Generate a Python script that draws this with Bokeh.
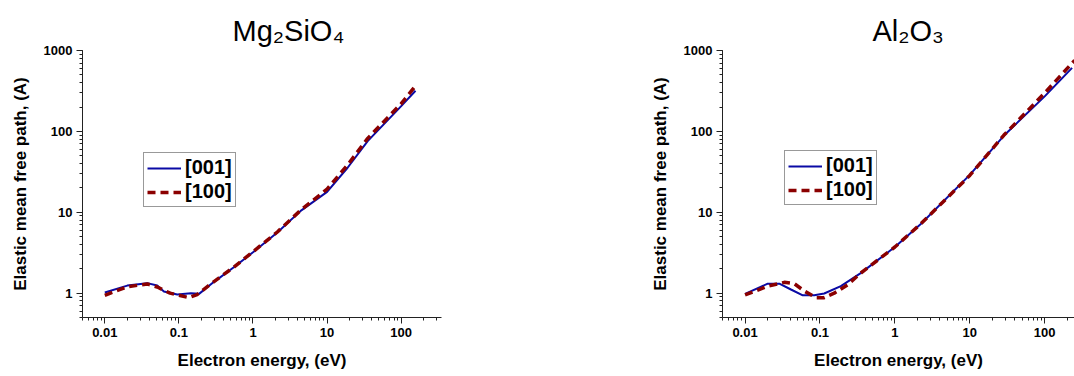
from bokeh.plotting import figure
from bokeh.layouts import row
from bokeh.models import Range1d, Legend, LegendItem, LogTicker, CustomJSTickFormatter
from bokeh.embed import file_html
from bokeh.resources import INLINE

# ---- data ----
mg_e_001 = [0.01, 0.0201, 0.0374, 0.051, 0.0627, 0.095, 0.145, 0.187, 0.295, 0.551, 1.0, 2.13, 4.4, 10.0, 18.9, 35.3, 100.0, 156.0]
mg_l_001 = [1.02, 1.24, 1.33, 1.24, 1.05, 0.96, 1.0, 0.98, 1.37, 2.09, 3.2, 5.63, 10.4, 17.9, 35.5, 75.9, 205.0, 318.0]
mg_e_100 = [0.01, 0.0201, 0.0374, 0.051, 0.076, 0.1, 0.137, 0.176, 0.27, 0.551, 1.0, 2.13, 4.4, 10.0, 18.9, 35.3, 100.0, 158.0]
mg_l_100 = [0.94, 1.2, 1.3, 1.19, 1.0, 0.94, 0.88, 0.96, 1.3, 2.1, 3.25, 5.7, 10.6, 19.3, 38.5, 82.0, 220.0, 370.0]

al_e_001 = [0.01, 0.0201, 0.0287, 0.041, 0.059, 0.084, 0.114, 0.19, 0.35, 1.0, 2.22, 10.0, 28.6, 100.0, 232.0]
al_l_001 = [0.98, 1.31, 1.31, 1.11, 0.94, 0.94, 0.99, 1.22, 1.77, 3.72, 7.15, 29.0, 88.8, 271.0, 610.0]
al_e_100 = [0.01, 0.0201, 0.0334, 0.0454, 0.062, 0.088, 0.114, 0.155, 0.234, 0.35, 1.0, 2.22, 10.0, 28.6, 100.0, 251.0]
al_l_100 = [0.95, 1.22, 1.36, 1.31, 1.06, 0.88, 0.88, 1.0, 1.27, 1.77, 3.72, 7.2, 28.5, 90.0, 298.0, 755.0]

series_labels = ["[001]", "[100]"]
titles = ["Mg\u2082SiO\u2084", "Al\u2082O\u2083"]
x_label = "Electron energy, (eV)"
y_label = "Elastic mean free path, (A)"

BLUE = "#0A0AA5"
RED = "#8B0000"
FONT = "Liberation Sans"

FMT_CODE = """
var v = Math.round(Math.log10(tick));
return v < 0 ? tick.toFixed(-v) : Math.round(tick).toString();
"""


def make(title, e1, l1, e2, l2, width, x_end, borders, legend_loc):
    bl, br, bt, bb = borders
    p = figure(width=width, height=376, x_axis_type="log", y_axis_type="log",
               x_range=Range1d(0.005, x_end), y_range=Range1d(0.5, 1000),
               output_backend="svg", toolbar_location=None, title=title,
               min_border_left=bl, min_border_right=br,
               min_border_top=bt, min_border_bottom=bb)
    p.outline_line_color = None
    p.xgrid.visible = False
    p.ygrid.visible = False
    p.background_fill_color = "white"
    p.border_fill_color = "white"

    t = p.title
    t.align = "left"
    t.offset = 150
    t.text_font = FONT
    t.text_font_size = "29px"
    t.text_font_style = "normal"
    t.text_color = "black"
    t.standoff = 7

    for ax in (p.xaxis[0], p.yaxis[0]):
        ax.major_label_text_font = FONT
        ax.major_label_text_font_size = "13px"
        ax.major_label_text_font_style = "bold"
        ax.major_label_text_color = "black"
        ax.axis_label_text_font = FONT
        ax.axis_label_text_font_size = "17px"
        ax.axis_label_text_font_style = "bold"
        ax.axis_label_text_color = "black"
        ax.axis_line_color = "#222222"
        ax.major_tick_line_color = "#222222"
        ax.minor_tick_line_color = "#222222"
        ax.major_tick_in = 0
        ax.major_tick_out = 6
        ax.minor_tick_in = 0
        ax.minor_tick_out = 3
        ax.major_label_standoff = 4
        ax.formatter = CustomJSTickFormatter(code=FMT_CODE)
    p.xaxis.axis_label = x_label
    p.yaxis.axis_label = y_label
    p.xaxis.axis_label_standoff = 11
    p.yaxis.axis_label_standoff = 11
    p.xaxis.ticker = LogTicker(desired_num_ticks=6, num_minor_ticks=10)
    p.yaxis.ticker = LogTicker(desired_num_ticks=4, num_minor_ticks=10)

    r1 = p.line(e1, l1, line_color=BLUE, line_width=2)
    r2 = p.line(e2, l2, line_color=RED, line_width=3.5, line_dash="8 5")

    leg = Legend(items=[LegendItem(label=series_labels[0], renderers=[r1]),
                        LegendItem(label=series_labels[1], renderers=[r2])],
                 location=legend_loc, glyph_width=34, glyph_height=20,
                 label_height=20, label_standoff=4, spacing=1, padding=3,
                 margin=0, border_line_color="#333333", border_line_width=1,
                 label_text_font=FONT, label_text_font_size="20px",
                 label_text_font_style="bold", label_text_color="black",
                 background_fill_color="white", background_fill_alpha=1)
    p.add_layout(leg, "center")
    return p


p1 = make(titles[0], mg_e_001, mg_l_001, mg_e_100, mg_l_100,
          width=620, x_end=350, borders=(82, 179, 49, 59), legend_loc=(61, 110))
p2 = make(titles[1], al_e_001, al_l_001, al_e_100, al_l_100,
          width=454, x_end=250, borders=(102, 0, 50, 54), legend_loc=(62, 112))

layout = row(p1, p2, spacing=0)
open("out.html", "w").write(file_html(layout, INLINE))
